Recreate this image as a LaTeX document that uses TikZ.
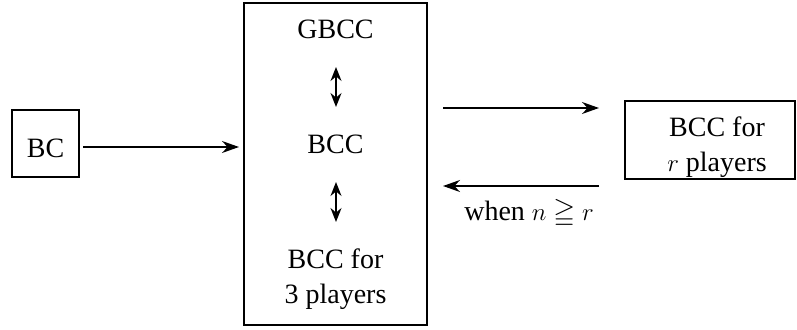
\documentclass[tikz,border=0pt]{standalone}
\usepackage{fontspec}
\usepackage{amssymb}
\setmainfont{Liberation Serif}
\newfontfamily\tnr{Liberation Serif}
\usetikzlibrary{arrows.meta}
\begin{document}
\begin{tikzpicture}[x=1pt,y=-1pt,
  every node/.style={font=\tnr\fontsize{28}{35}\selectfont},
  box/.style={draw,line width=1.3pt,inner sep=0pt,align=center},
  txt/.style={inner sep=0pt,align=center},
  arr/.style={line width=1.4pt,-{Stealth[length=17pt,width=12pt]}},
  darr/.style={line width=1.4pt,{Stealth[length=14pt,width=11pt]}-{Stealth[length=14pt,width=11pt]}}]
\useasboundingbox (0,0) rectangle (797,329);
\node[box,minimum width=67pt,minimum height=67pt,text height=27pt,text depth=0pt] (bc) at (45.5,143.5) {BC};
\node[box,minimum width=183pt,minimum height=322pt] (big) at (335.5,164) {};
\node[box,minimum width=170pt,minimum height=78pt] (rb) at (710,140) {};
\node[txt,anchor=base] (gbcc) at (335.5,38) {GBCC};
\node[txt,anchor=base] (bcc) at (335.5,153) {BCC};
\node[txt] (bcc3) at (335.5,279) {BCC for\\3 players};
\node[txt] (bccr) at (717,147) {BCC for\\$r$ players};
\coordinate (a1s) at (336,67);
\coordinate (a1e) at (336,107);
\coordinate (a2s) at (336,182);
\coordinate (a2e) at (336,222);
\draw[darr] (a1s) -- (a1e);
\draw[darr] (a2s) -- (a2e);
\coordinate (c0) at (83,147);
\coordinate (c1) at (239,147);
\draw[arr] (c0) -- (c1);
\coordinate (r1s) at (443,108);
\coordinate (r1e) at (599,108);
\coordinate (r2s) at (599,186);
\coordinate (r2e) at (443,186);
\draw[arr] (r1s) -- (r1e);
\draw[arr] (r2s) -- (r2e);
\node[txt,anchor=base] (lab) at (529,220) {when $n \geqq r$};
\end{tikzpicture}
\end{document}
